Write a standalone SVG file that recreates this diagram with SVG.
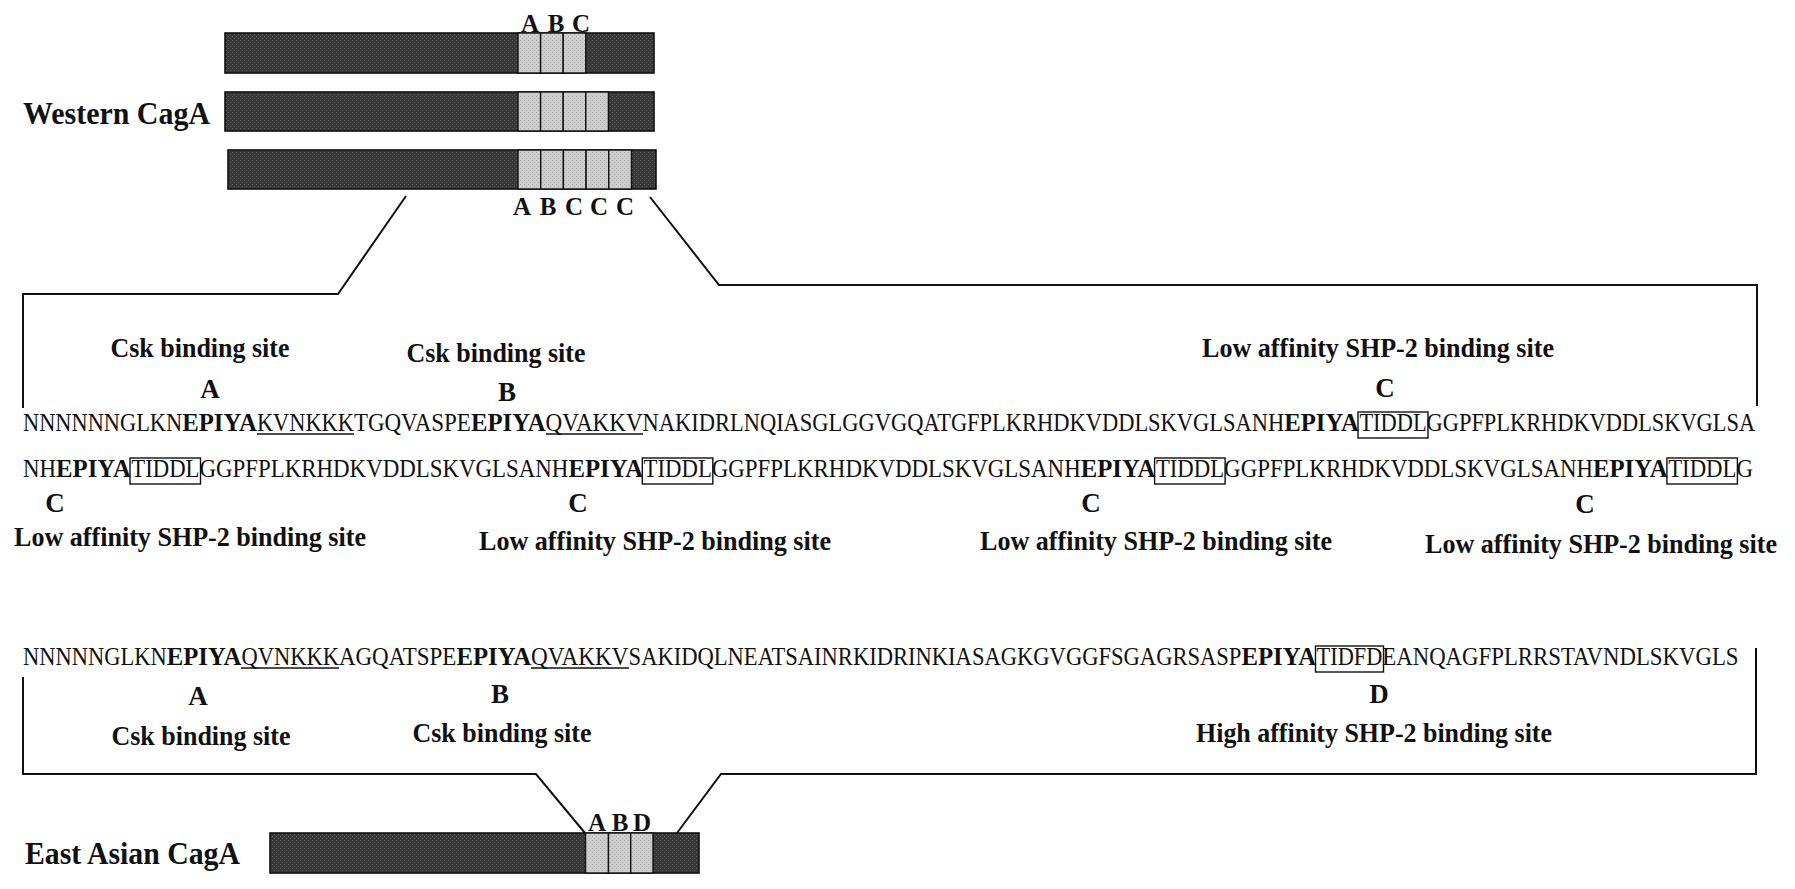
<svg xmlns="http://www.w3.org/2000/svg" width="1795" height="889" viewBox="0 0 1795 889">
<style>
.seq{font-family:"Liberation Serif","Times New Roman",serif;font-size:25px;fill:#111}
.b{font-weight:bold;font-size:26px}
.lab{font-family:"Liberation Serif","Times New Roman",serif;font-weight:bold;font-size:27px;fill:#111;text-anchor:middle}
.tl{font-family:"Liberation Serif","Times New Roman",serif;font-weight:bold;font-size:25px;fill:#111;text-anchor:middle}
.title{font-family:"Liberation Serif","Times New Roman",serif;font-weight:bold;font-size:31px;fill:#111}
.bar{fill:url(#dk);stroke:#111;stroke-width:1.6}
.seg{fill:url(#lt);stroke:#111;stroke-width:1.4}
.box{fill:none;stroke:#111;stroke-width:1.4}
.ul{stroke:#111;stroke-width:1.3}
.con{fill:none;stroke:#111;stroke-width:2}
</style>
<defs>
<pattern id="dk" width="4" height="4" patternUnits="userSpaceOnUse">
<rect width="4" height="4" fill="#383838"/>
<rect x="0" y="0" width="1" height="1" fill="#5c5c5c"/>
<rect x="2" y="2" width="1" height="1" fill="#555"/>
</pattern>
<pattern id="lt" width="4" height="4" patternUnits="userSpaceOnUse">
<rect width="4" height="4" fill="#cdcdcd"/>
<rect x="0" y="0" width="1" height="1" fill="#b0b0b0"/>
<rect x="2" y="2" width="1" height="1" fill="#b4b4b4"/>
</pattern>
</defs>
<rect width="1795" height="889" fill="#fff"/>

<g id="western-label"><text class="title" x="23" y="124" textLength="187" lengthAdjust="spacingAndGlyphs">Western CagA</text></g>

<g id="western-bar-1">
<rect class="bar" x="225" y="33" width="429" height="40"/>
<rect class="seg" x="518" y="33" width="22.6" height="40"/>
<rect class="seg" x="540.6" y="33" width="22.6" height="40"/>
<rect class="seg" x="563.2" y="33" width="22.6" height="40"/>
<text class="tl" x="530" y="32">A</text><text class="tl" x="556" y="32">B</text><text class="tl" x="581" y="32">C</text>
</g>
<g id="western-bar-2">
<rect class="bar" x="225" y="92" width="429" height="39"/>
<rect class="seg" x="518" y="92" width="22.6" height="39"/>
<rect class="seg" x="540.6" y="92" width="22.6" height="39"/>
<rect class="seg" x="563.2" y="92" width="22.6" height="39"/>
<rect class="seg" x="585.8" y="92" width="22.6" height="39"/>
</g>
<g id="western-bar-3">
<rect class="bar" x="228" y="150" width="428" height="39"/>
<rect class="seg" x="518" y="150" width="22.7" height="39"/>
<rect class="seg" x="540.7" y="150" width="22.7" height="39"/>
<rect class="seg" x="563.4" y="150" width="22.7" height="39"/>
<rect class="seg" x="586.1" y="150" width="22.7" height="39"/>
<rect class="seg" x="608.8" y="150" width="22.7" height="39"/>
<text class="tl" x="522" y="215">A</text><text class="tl" x="548" y="215">B</text><text class="tl" x="574" y="215">C</text><text class="tl" x="599" y="215">C</text><text class="tl" x="625" y="215">C</text>
</g>

<g id="connectors">
<polyline class="con" points="406,196 338,294 23,294 23,408"/>
<polyline class="con" points="650,197 719,285 1757,285 1757,406"/>
<polyline class="con" points="23,677 23,774 536,774 585,833"/>
<polyline class="con" points="677,833 721,774 1756,774 1756,648"/>
</g>

<g id="western-sequence">
<text class="seq" y="431"><tspan x="23" textLength="159.2" lengthAdjust="spacingAndGlyphs">NNNNNNGLKN</tspan><tspan class="b" x="182.2" textLength="74.7" lengthAdjust="spacingAndGlyphs">EPIYA</tspan><tspan x="256.9" textLength="97" lengthAdjust="spacingAndGlyphs">KVNKKK</tspan><tspan x="353.9" textLength="117" lengthAdjust="spacingAndGlyphs">TGQVASPE</tspan><tspan class="b" x="470.9" textLength="74.7" lengthAdjust="spacingAndGlyphs">EPIYA</tspan><tspan x="545.6" textLength="97" lengthAdjust="spacingAndGlyphs">QVAKKV</tspan><tspan x="642.6" textLength="641.6" lengthAdjust="spacingAndGlyphs">NAKIDRLNQIASGLGGVGQATGFPLKRHDKVDDLSKVGLSANH</tspan><tspan class="b" x="1284.2" textLength="74.7" lengthAdjust="spacingAndGlyphs">EPIYA</tspan><tspan x="1359.4" textLength="67.2" lengthAdjust="spacingAndGlyphs">TIDDL</tspan><tspan x="1426.6" textLength="328.5" lengthAdjust="spacingAndGlyphs">GGPFPLKRHDKVDDLSKVGLSA</tspan></text>
<line class="ul" x1="257" y1="434" x2="354" y2="434"/>
<line class="ul" x1="546" y1="434" x2="643" y2="434"/>
<rect class="box" x="1358" y="412" width="70" height="26"/>
<text class="seq" y="477"><tspan x="23" textLength="33.1" lengthAdjust="spacingAndGlyphs">NH</tspan><tspan class="b" x="56.1" textLength="74.7" lengthAdjust="spacingAndGlyphs">EPIYA</tspan><tspan x="131.3" textLength="68.2" lengthAdjust="spacingAndGlyphs">TIDDL</tspan><tspan x="199.5" textLength="368.9" lengthAdjust="spacingAndGlyphs">GGPFPLKRHDKVDDLSKVGLSANH</tspan><tspan class="b" x="568.4" textLength="74.7" lengthAdjust="spacingAndGlyphs">EPIYA</tspan><tspan x="643.6" textLength="68.2" lengthAdjust="spacingAndGlyphs">TIDDL</tspan><tspan x="711.8" textLength="368.9" lengthAdjust="spacingAndGlyphs">GGPFPLKRHDKVDDLSKVGLSANH</tspan><tspan class="b" x="1080.7" textLength="74.7" lengthAdjust="spacingAndGlyphs">EPIYA</tspan><tspan x="1155.9" textLength="68.2" lengthAdjust="spacingAndGlyphs">TIDDL</tspan><tspan x="1224.1" textLength="368.9" lengthAdjust="spacingAndGlyphs">GGPFPLKRHDKVDDLSKVGLSANH</tspan><tspan class="b" x="1593" textLength="74.7" lengthAdjust="spacingAndGlyphs">EPIYA</tspan><tspan x="1668.2" textLength="68.2" lengthAdjust="spacingAndGlyphs">TIDDL</tspan><tspan x="1736.4" textLength="16.5" lengthAdjust="spacingAndGlyphs">G</tspan></text>
<rect class="box" x="130" y="458" width="70.5" height="26"/>
<rect class="box" x="642.3" y="458" width="70.5" height="26"/>
<rect class="box" x="1154.6" y="458" width="70.5" height="26"/>
<rect class="box" x="1666.9" y="458" width="70.5" height="26"/>
</g>

<g id="western-labels">
<text class="lab" x="200" y="357" textLength="179" lengthAdjust="spacingAndGlyphs">Csk binding site</text>
<text class="lab" x="210" y="398">A</text>
<text class="lab" x="496" y="362" textLength="179" lengthAdjust="spacingAndGlyphs">Csk binding site</text>
<text class="lab" x="507" y="401">B</text>
<text class="lab" x="1378" y="357" textLength="352" lengthAdjust="spacingAndGlyphs">Low affinity SHP-2 binding site</text>
<text class="lab" x="1385" y="397">C</text>
<text class="lab" x="55" y="512">C</text>
<text class="lab" x="190" y="546" textLength="352" lengthAdjust="spacingAndGlyphs">Low affinity SHP-2 binding site</text>
<text class="lab" x="578" y="512">C</text>
<text class="lab" x="655" y="550" textLength="352" lengthAdjust="spacingAndGlyphs">Low affinity SHP-2 binding site</text>
<text class="lab" x="1091" y="512">C</text>
<text class="lab" x="1156" y="550" textLength="352" lengthAdjust="spacingAndGlyphs">Low affinity SHP-2 binding site</text>
<text class="lab" x="1585" y="513">C</text>
<text class="lab" x="1601" y="553" textLength="352" lengthAdjust="spacingAndGlyphs">Low affinity SHP-2 binding site</text>
</g>

<g id="east-asian-sequence">
<text class="seq" y="665"><tspan x="23" textLength="143.7" lengthAdjust="spacingAndGlyphs">NNNNNGLKN</tspan><tspan class="b" x="166.7" textLength="74.7" lengthAdjust="spacingAndGlyphs">EPIYA</tspan><tspan x="241.4" textLength="97.5" lengthAdjust="spacingAndGlyphs">QVNKKK</tspan><tspan x="338.9" textLength="117.5" lengthAdjust="spacingAndGlyphs">AGQATSPE</tspan><tspan class="b" x="456.4" textLength="74.7" lengthAdjust="spacingAndGlyphs">EPIYA</tspan><tspan x="531.1" textLength="97.5" lengthAdjust="spacingAndGlyphs">QVAKKV</tspan><tspan x="628.6" textLength="612.8" lengthAdjust="spacingAndGlyphs">SAKIDQLNEATSAINRKIDRINKIASAGKGVGGFSGAGRSASP</tspan><tspan class="b" x="1241.4" textLength="74.7" lengthAdjust="spacingAndGlyphs">EPIYA</tspan><tspan x="1316.6" textLength="65.7" lengthAdjust="spacingAndGlyphs">TIDFD</tspan><tspan x="1382.3" textLength="356.2" lengthAdjust="spacingAndGlyphs">EANQAGFPLRRSTAVNDLSKVGLS</tspan></text>
<line class="ul" x1="241" y1="668" x2="339" y2="668"/>
<line class="ul" x1="531" y1="668" x2="629" y2="668"/>
<rect class="box" x="1315.5" y="646" width="68" height="26"/>
</g>

<g id="east-asian-labels">
<text class="lab" x="198" y="705">A</text>
<text class="lab" x="201" y="745" textLength="179" lengthAdjust="spacingAndGlyphs">Csk binding site</text>
<text class="lab" x="500" y="703">B</text>
<text class="lab" x="502" y="742" textLength="179" lengthAdjust="spacingAndGlyphs">Csk binding site</text>
<text class="lab" x="1379" y="703">D</text>
<text class="lab" x="1374" y="742" textLength="356" lengthAdjust="spacingAndGlyphs">High affinity SHP-2 binding site</text>
</g>

<g id="east-asian-bar">
<rect class="bar" x="270" y="833" width="429" height="40"/>
<rect class="seg" x="585.5" y="833" width="23" height="40"/>
<rect class="seg" x="608.5" y="833" width="22.2" height="40"/>
<rect class="seg" x="630.7" y="833" width="22.3" height="40"/>
<text class="tl" x="597" y="831">A</text><text class="tl" x="620" y="831">B</text><text class="tl" x="642" y="831">D</text>
</g>
<g id="east-asian-label"><text class="title" x="25" y="864" textLength="215" lengthAdjust="spacingAndGlyphs">East Asian CagA</text></g>
</svg>
